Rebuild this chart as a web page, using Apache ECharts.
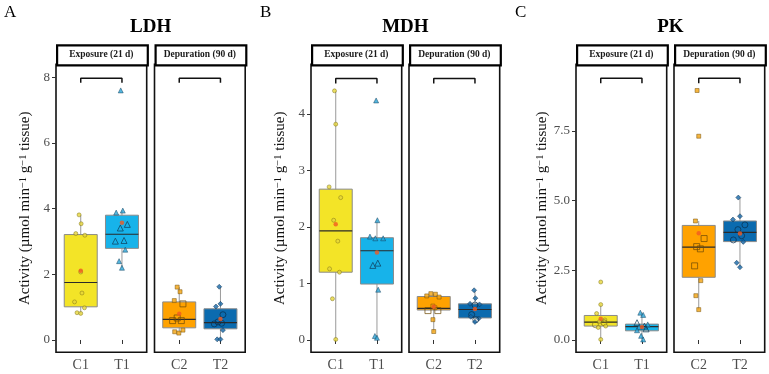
<!DOCTYPE html>
<html>
<head>
<meta charset="utf-8">
<script src="https://cdn.jsdelivr.net/npm/echarts@6/dist/echarts.min.js"></script>
<style>
  html, body { margin: 0; padding: 0; background: #fff; }
  #chart { width: 769px; height: 374px; }
</style>
</head>
<body>
<div id="chart"></div>
<script>
// groups in each facet, facet strips, panels
var groupNames = [['C1', 'T1'], ['C2', 'T2']];
var facetNames = ['Exposure (21 d)', 'Depuration (90 d)'];
var enzymes = ['LDH', 'MDH', 'PK'];
var panelLetters = ['A', 'B', 'C'];

// box stats per group C1, T1, C2, T2: [lower whisker, Q1, median, Q3, upper whisker]
var ldhBox = [[0.81, 1.01, 1.75, 3.21, 3.81], [2.20, 2.79, 3.22, 3.80, 3.94], [0.21, 0.37, 0.63, 1.16, 1.61], [0.02, 0.34, 0.53, 0.95, 1.62]];
var mdhBox = [[0.01, 1.20, 1.93, 2.67, 4.41], [0.04, 0.99, 1.58, 1.81, 2.12], [0.15, 0.53, 0.56, 0.77, 0.82], [0.32, 0.39, 0.54, 0.64, 0.88]];
var pkBox  = [[0.02, 0.50, 0.64, 0.88, 1.27], [0.02, 0.33, 0.48, 0.57, 0.98], [1.09, 2.25, 3.33, 4.11, 4.27], [2.61, 3.53, 3.86, 4.27, 5.11]];

// group means
var ldhMean = [2.11, 3.57, 0.80, 0.64];
var mdhMean = [2.05, 1.55, 0.59, 0.55];
var pkMean  = [0.76, 0.47, 3.83, 3.82];

// individual values (C1, T1, C2, T2)
var ldhValues = [
  [3.81, 3.54, 3.24, 3.19, 2.07, 1.43, 1.16, 0.98, 0.83, 0.81],
  [7.60, 3.94, 3.88, 3.52, 3.41, 3.03, 3.01, 2.75, 2.40, 2.20],
  [1.61, 1.47, 1.20, 1.10, 0.67, 0.59, 0.59, 0.30, 0.25, 0.21],
  [1.62, 1.10, 1.02, 0.77, 0.55, 0.51, 0.49, 0.30, 0.02, 0.02]
];
var mdhValues = [
  [4.41, 3.82, 2.71, 2.52, 2.12, 1.75, 1.26, 1.20, 0.73, 0.01],
  [4.24, 2.12, 1.83, 1.80, 1.80, 1.36, 1.32, 0.89, 0.07, 0.04],
  [0.82, 0.81, 0.78, 0.76, 0.60, 0.57, 0.52, 0.52, 0.36, 0.15],
  [0.88, 0.74, 0.64, 0.63, 0.62, 0.45, 0.41, 0.38, 0.36, 0.32]
];
var pkValues = [
  [2.08, 1.27, 0.95, 0.72, 0.66, 0.62, 0.55, 0.50, 0.45, 0.02],
  [0.98, 0.90, 0.62, 0.56, 0.50, 0.47, 0.40, 0.35, 0.15, 0.02],
  [8.95, 7.31, 4.27, 3.64, 3.35, 3.27, 2.66, 2.13, 1.59, 1.09],
  [5.11, 4.44, 4.32, 4.13, 3.96, 3.74, 3.59, 3.52, 2.77, 2.61]
];

// horizontal jitter of each point (x units)
var ldhJitter = [
  [-0.04, 0.01, -0.12, 0.10, 0.00, 0.03, -0.15, 0.09, -0.09, 0.00],
  [-0.03, 0.02, -0.14, 0.13, -0.04, 0.05, -0.16, 0.08, -0.07, 0.00],
  [-0.05, 0.02, -0.12, 0.09, -0.05, -0.16, 0.05, 0.09, -0.11, -0.01],
  [-0.03, 0.00, -0.11, 0.06, -0.06, 0.03, -0.15, 0.06, -0.08, 0.00]
];
var mdhJitter = [
  [-0.03, 0.00, -0.16, 0.12, -0.05, 0.05, -0.15, 0.09, -0.08, 0.00],
  [-0.02, 0.01, -0.17, -0.04, 0.15, 0.02, -0.10, 0.03, -0.05, 0.00],
  [-0.07, 0.04, -0.17, 0.13, -0.02, 0.03, -0.14, 0.10, -0.02, 0.00],
  [-0.02, 0.01, -0.12, 0.11, 0.00, -0.08, -0.10, 0.09, 0.02, 0.00]
];
var pkJitter = [
  [0.00, 0.00, -0.10, 0.10, -0.03, 0.08, -0.13, 0.12, -0.06, 0.00],
  [-0.04, 0.03, -0.12, 0.14, 0.06, -0.07, 0.10, -0.12, -0.02, 0.03],
  [-0.04, 0.00, -0.08, 0.13, -0.05, 0.04, -0.10, 0.05, -0.07, 0.00],
  [-0.04, 0.00, -0.17, 0.12, -0.05, 0.04, -0.16, 0.08, -0.08, 0.00]
];

// second subgroup (drawn as open symbols)
var ldhOpen = [[0,0,0,0,0,0,0,0,0,0], [0,0,0,1,1,1,1,0,0,0], [0,0,0,1,1,1,1,0,0,0], [0,0,0,1,1,1,1,0,0,0]];
var mdhOpen = [[0,0,0,0,0,0,0,0,0,0], [0,0,0,0,0,1,1,0,0,0], [0,0,0,0,0,0,1,1,0,0], [0,0,0,0,1,1,0,0,1,0]];
var pkOpen  = [[0,0,0,0,0,1,1,0,0,0], [0,0,1,0,1,0,1,0,0,0], [0,0,0,1,1,1,1,0,0,0], [0,0,0,1,1,1,1,0,0,0]];

// axis ticks, limits, bracket heights [top, tick end]
var ldhTicks = [0, 2, 4, 6, 8];
var mdhTicks = [0, 1, 2, 3, 4];
var pkTicks  = [0, 2.5, 5, 7.5];
var ldhRange = [-0.375, 8.395];
var mdhRange = [-0.218, 4.88];
var pkRange  = [-0.441, 9.89];
var ldhBracket = [7.97, 7.83];
var mdhBracket = [4.63, 4.54];
var pkBracket  = [9.39, 9.21];

var SERIF = '"Liberation Serif", "Times New Roman", serif';
var boxFill = ['#F3E427', '#17B3EA', '#FFA200', '#0B6BAF'];
var dotFill = ['#E6D63A', '#2AA4D6', '#F2A20E', '#1566A6'];
var dotEdge = ['#7C7016', '#0F3E5A', '#6E4A05', '#0A2F4D'];
var shapes = ['circle', 'triangle', 'rect', 'diamond'];
var facetLeft = [[56, 154.5], [311, 409], [576, 674]];
var facetW = 90.7, plotTop = 64.3, plotH = 288;

var panels = [
  { box: ldhBox, mean: ldhMean, values: ldhValues, jitter: ldhJitter, open: ldhOpen, ticks: ldhTicks, range: ldhRange, bracket: ldhBracket, digits: 0 },
  { box: mdhBox, mean: mdhMean, values: mdhValues, jitter: mdhJitter, open: mdhOpen, ticks: mdhTicks, range: mdhRange, bracket: mdhBracket, digits: 0 },
  { box: pkBox, mean: pkMean, values: pkValues, jitter: pkJitter, open: pkOpen, ticks: pkTicks, range: pkRange, bracket: pkBracket, digits: 1 }
];

function renderBox(params, api) {
  var x = api.value(0);
  var c = api.value(6);
  var lo = api.coord([x, api.value(1)]);
  var q1 = api.coord([x, api.value(2)]);
  var md = api.coord([x, api.value(3)]);
  var q3 = api.coord([x, api.value(4)]);
  var hi = api.coord([x, api.value(5)]);
  var half = api.size([0.8, 0])[0] / 2;
  return {
    type: 'group',
    children: [
      { type: 'line', shape: { x1: lo[0], y1: lo[1], x2: hi[0], y2: hi[1] }, style: { stroke: '#9a9a9a', lineWidth: 1 } },
      { type: 'rect', shape: { x: q3[0] - half, y: q3[1], width: half * 2, height: q1[1] - q3[1] },
        style: { fill: boxFill[c], stroke: '#8a8a8a', lineWidth: 1 } },
      { type: 'line', shape: { x1: md[0] - half, y1: md[1], x2: md[0] + half, y2: md[1] }, style: { stroke: '#2a2a2a', lineWidth: 1.2 } }
    ]
  };
}

var grids = [], xAxes = [], yAxes = [], series = [], graphics = [];

panels.forEach(function (p, pi) {
  for (var f = 0; f < 2; f++) {
    var gi = grids.length;
    var names = groupNames[f];
    grids.push({
      left: facetLeft[pi][f], top: plotTop, width: facetW, height: plotH,
      show: true, borderColor: '#111', borderWidth: 1.6, backgroundColor: 'transparent',
      containLabel: false, outerBoundsMode: 'none'
    });
    xAxes.push({
      gridIndex: gi, type: 'value', min: 0.4, max: 2.6,
      splitLine: { show: false }, axisLine: { show: false },
      axisTick: { show: true, customValues: [1, 2], length: 4, lineStyle: { color: '#333' } },
      axisLabel: {
        customValues: [1, 2], margin: 6, color: '#4d4d4d', fontFamily: SERIF, fontSize: 14,
        formatter: (function (n) { return function (v) { return n[Math.round(v) - 1]; }; })(names)
      }
    });
    var y = {
      gridIndex: gi, type: 'value', min: p.range[0], max: p.range[1],
      splitLine: { show: false }, axisLine: { show: false },
      axisTick: { show: true, customValues: p.ticks, length: 4, lineStyle: { color: '#333' } },
      axisLabel: {
        customValues: p.ticks, margin: 6, color: '#4d4d4d', fontFamily: SERIF, fontSize: 13,
        formatter: (function (d) { return function (v) { return v.toFixed(d); }; })(p.digits)
      }
    };
    if (f === 0) {
      y.name = 'Activity (µmol min{s|−1} g{s|−1} tissue)';
      y.nameLocation = 'middle';
      y.nameRotate = 90;
      y.nameGap = 23;
      y.nameTextStyle = {
        fontFamily: SERIF, fontSize: 15, color: '#111',
        rich: { s: { fontFamily: SERIF, fontSize: 10.5, color: '#111', verticalAlign: 'top' } }
      };
    } else {
      y.show = false;
    }
    yAxes.push(y);

    // boxes
    var boxData = [];
    for (var g = 0; g < 2; g++) {
      var k = f * 2 + g;
      boxData.push([g + 1].concat(p.box[k]).concat([k]));
    }
    series.push({
      type: 'custom', xAxisIndex: gi, yAxisIndex: gi, renderItem: renderBox,
      encode: { x: 0, y: [1, 2, 3, 4, 5] }, data: boxData, z: 2, silent: true
    });

    // points
    var pts = [], means = [];
    for (var g2 = 0; g2 < 2; g2++) {
      var k2 = f * 2 + g2;
      p.values[k2].forEach(function (v, i) {
        var open = p.open[k2][i] === 1;
        pts.push({
          value: [g2 + 1 + p.jitter[k2][i], v],
          symbol: open ? (k2 === 3 ? 'circle' : shapes[k2]) : shapes[k2],
          symbolSize: open ? 6 : (k2 === 1 || k2 === 3 ? 5 : 4),
          itemStyle: open
            ? { color: 'rgba(0,0,0,0)', borderColor: dotEdge[k2], borderWidth: 0.9 }
            : { color: dotFill[k2], borderColor: dotEdge[k2], borderWidth: 0.6 }
        });
      });
      means.push([g2 + 1, p.mean[k2]]);
    }
    series.push({ type: 'scatter', xAxisIndex: gi, yAxisIndex: gi, data: pts, z: 3, silent: true });
    series.push({
      type: 'scatter', xAxisIndex: gi, yAxisIndex: gi, data: means, z: 4, silent: true,
      symbol: 'circle', symbolSize: 4.5, itemStyle: { color: '#F15A22' }
    });

    // significance bracket
    series.push({
      type: 'line', xAxisIndex: gi, yAxisIndex: gi, z: 4, silent: true, symbol: 'none',
      data: [[1, p.bracket[1]], [1, p.bracket[0]], [2, p.bracket[0]], [2, p.bracket[1]]],
      lineStyle: { color: '#111', width: 1.5 }
    });

    // facet strip
    graphics.push({
      type: 'rect', left: facetLeft[pi][f], top: 44.3,
      shape: { width: facetW, height: 20 },
      style: { fill: '#fff', stroke: '#000', lineWidth: 2.2 }
    });
    graphics.push({
      type: 'text', x: facetLeft[pi][f] + facetW / 2, y: 54.5,
      style: { text: facetNames[f], fontFamily: SERIF, fontWeight: 'bold', fontSize: 9.5, fill: '#1a1a1a',
        textAlign: 'center', textVerticalAlign: 'middle' }
    });
  }

  // panel title and letter
  graphics.push({
    type: 'text', x: (facetLeft[pi][0] + facetLeft[pi][1] + facetW) / 2, y: 27,
    style: { text: enzymes[pi], fontFamily: SERIF, fontWeight: 'bold', fontSize: 19, fill: '#000',
      textAlign: 'center', textVerticalAlign: 'middle' }
  });
  graphics.push({
    type: 'text', x: [4, 260, 515][pi], y: 13,
    style: { text: panelLetters[pi], fontFamily: SERIF, fontSize: 17, fill: '#000',
      textAlign: 'left', textVerticalAlign: 'middle' }
  });
});

var chart = echarts.init(document.getElementById('chart'), null, { renderer: 'canvas' });
chart.setOption({
  animation: false,
  backgroundColor: '#fff',
  grid: grids,
  xAxis: xAxes,
  yAxis: yAxes,
  series: series,
  graphic: graphics
});
</script>
</body>
</html>
